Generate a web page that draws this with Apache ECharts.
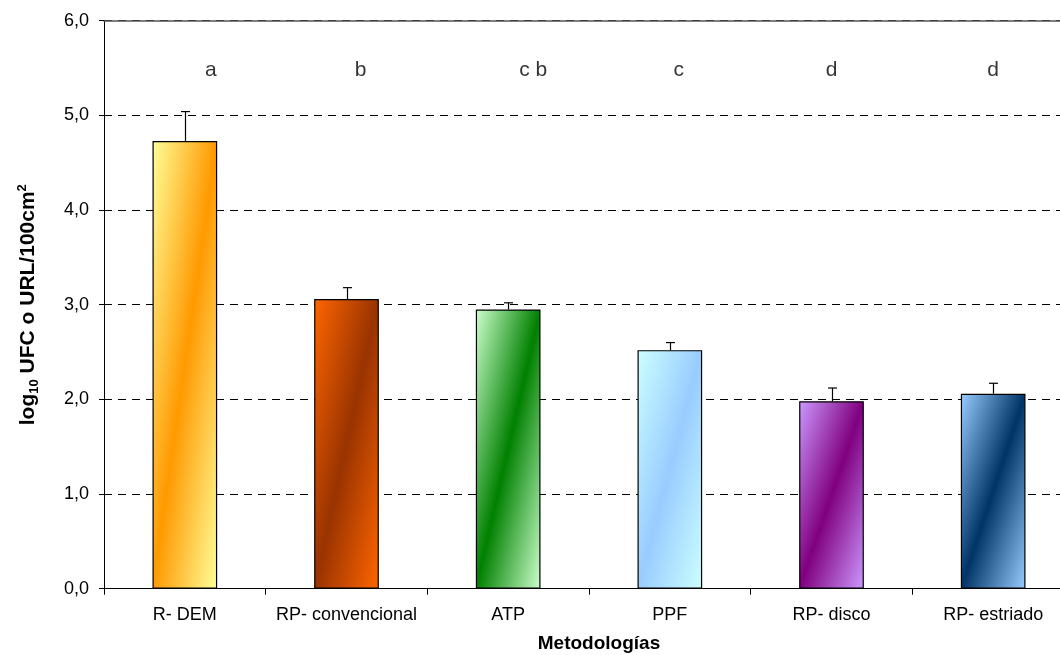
<!DOCTYPE html>
<html><head><meta charset="utf-8">
<script src="https://cdn.jsdelivr.net/npm/echarts@6/dist/echarts.min.js"></script>
<style>html,body{margin:0;padding:0;background:#fff}#c{width:1060px;height:655px}</style>
</head><body><div id="c"></div>
<script>
// ---- data ----
const categories = ['R- DEM', 'RP- convencional', 'ATP', 'PPF', 'RP- disco', 'RP- estriado'];
const means = [4.73, 3.06, 2.95, 2.52, 1.98, 2.06];
const errors = [0.31, 0.12, 0.07, 0.08, 0.14, 0.11];
const letters = ['a', 'b', 'c b', 'c', 'd', 'd'];
const letterLevel = 5.475;
const yMin = 0, yMax = 6, yStep = 1;

// ---- styles ----
const edgeColors = ['#FFFF99', '#FF6600', '#CCFFCC', '#CCFFFF', '#CC99FF', '#99CCFF'];
const stripeColors = ['#FF9900', '#993300', '#008000', '#99CCFF', '#800080', '#003366'];
const letterOffsets = [26, 14, 25, 9, 0, 0];
const FONT = 'Arial, "Liberation Sans", Helvetica, sans-serif';

const chart = echarts.init(document.getElementById('c'), null, {renderer: 'canvas'});

function barData(w, hFn) {
  return means.map((v, i) => {
    let color = edgeColors[i];
    if (w) {
      const h = hFn(v);
      const d = h * h + w * w;
      color = new echarts.graphic.LinearGradient(0, 0, 2 * h * h / d, 2 * w * w / d, [
        {offset: 0, color: edgeColors[i]},
        {offset: 0.5, color: stripeColors[i]},
        {offset: 1, color: edgeColors[i]}
      ]);
    }
    return {value: v, itemStyle: {color: color}};
  });
}

const option = {
  animation: false,
  backgroundColor: '#fff',
  grid: {left: 104, top: 20.7, width: 970, height: 568, outerBoundsMode: 'none', containLabel: false},
  xAxis: [{
    type: 'category',
    data: categories,
    position: 'bottom',
    axisLine: {lineStyle: {color: '#000', width: 1}},
    axisTick: {show: true, interval: 0, length: 6, lineStyle: {color: '#000'}},
    axisLabel: {color: '#000', fontSize: 18, fontFamily: FONT, margin: 17, interval: 0, hideOverlap: false},
    name: 'Metodologías',
    nameLocation: 'middle',
    nameGap: 46,
    nameTextStyle: {color: '#000', fontSize: 19, fontWeight: 'bold', fontFamily: FONT, padding: [0, 0, 0, 20]}
  }, {
    type: 'category',
    data: categories,
    position: 'top',
    axisLine: {show: true, lineStyle: {color: '#555', width: 1.5}},
    axisTick: {show: false},
    axisLabel: {show: false}
  }],
  yAxis: {
    type: 'value',
    min: yMin, max: yMax, interval: yStep,
    axisLine: {show: true, lineStyle: {color: '#000', width: 1}},
    axisTick: {show: true, length: 5, lineStyle: {color: '#000'}},
    axisLabel: {
      color: '#000', fontSize: 18, fontFamily: FONT, margin: 15,
      formatter: v => v.toFixed(1).replace('.', ',')
    },
    splitLine: {
      show: true,
      lineStyle: {color: '#000', width: 1, type: [8, 6]}
    },
    name: '{b|log}{s|10}{b| UFC o URL/100cm}{p|2}',
    nameLocation: 'middle',
    nameGap: 63,
    nameRotate: 90,
    nameTextStyle: {
      rich: {
        b: {fontSize: 21, fontWeight: 'bold', fontFamily: FONT, color: '#000', lineHeight: 25},
        s: {fontSize: 13, fontWeight: 'bold', fontFamily: FONT, color: '#000', verticalAlign: 'bottom', lineHeight: 14},
        p: {fontSize: 13, fontWeight: 'bold', fontFamily: FONT, color: '#000', verticalAlign: 'top', lineHeight: 14}
      }
    }
  },
  series: [{
    type: 'bar',
    data: barData(0),
    barWidth: '40%',
    itemStyle: {borderColor: '#000', borderWidth: 1.2},
    z: 2
  }, {
    type: 'custom',
    data: means.map((v, i) => [i, v, v + errors[i]]),
    renderItem: function (params, api) {
      const p0 = api.coord([api.value(0), api.value(1)]);
      const p1 = api.coord([api.value(0), api.value(2)]);
      const x = Math.round(p0[0]) + 0.5;
      return {
        type: 'group',
        children: [
          {type: 'line', shape: {x1: x, y1: p0[1], x2: x, y2: p1[1]}, style: {stroke: '#000', lineWidth: 1.2}},
          {type: 'line', shape: {x1: x - 4.5, y1: p1[1], x2: x + 4.5, y2: p1[1]}, style: {stroke: '#000', lineWidth: 1.2}}
        ]
      };
    },
    z: 3
  }, {
    type: 'scatter',
    symbolSize: 0,
    data: letters.map((t, i) => ({
      value: [i, letterLevel],
      label: {offset: [letterOffsets[i], 0]}
    })),
    label: {
      show: true, position: 'inside',
      formatter: p => letters[p.dataIndex],
      color: '#000', fontSize: 21, fontFamily: FONT
    },
    silent: true,
    z: 4
  }]
};

chart.setOption(option);

// Apply Excel-like diagonal gradients using actual pixel sizes of each bar
const x0 = chart.convertToPixel({xAxisIndex: 0}, 0);
const x1 = chart.convertToPixel({xAxisIndex: 0}, 1);
const bw = (x1 - x0) * 0.4;
const base = chart.convertToPixel({yAxisIndex: 0}, 0);
chart.setOption({
  series: [{data: barData(bw, v => base - chart.convertToPixel({yAxisIndex: 0}, v))}]
});
</script>
</body></html>
